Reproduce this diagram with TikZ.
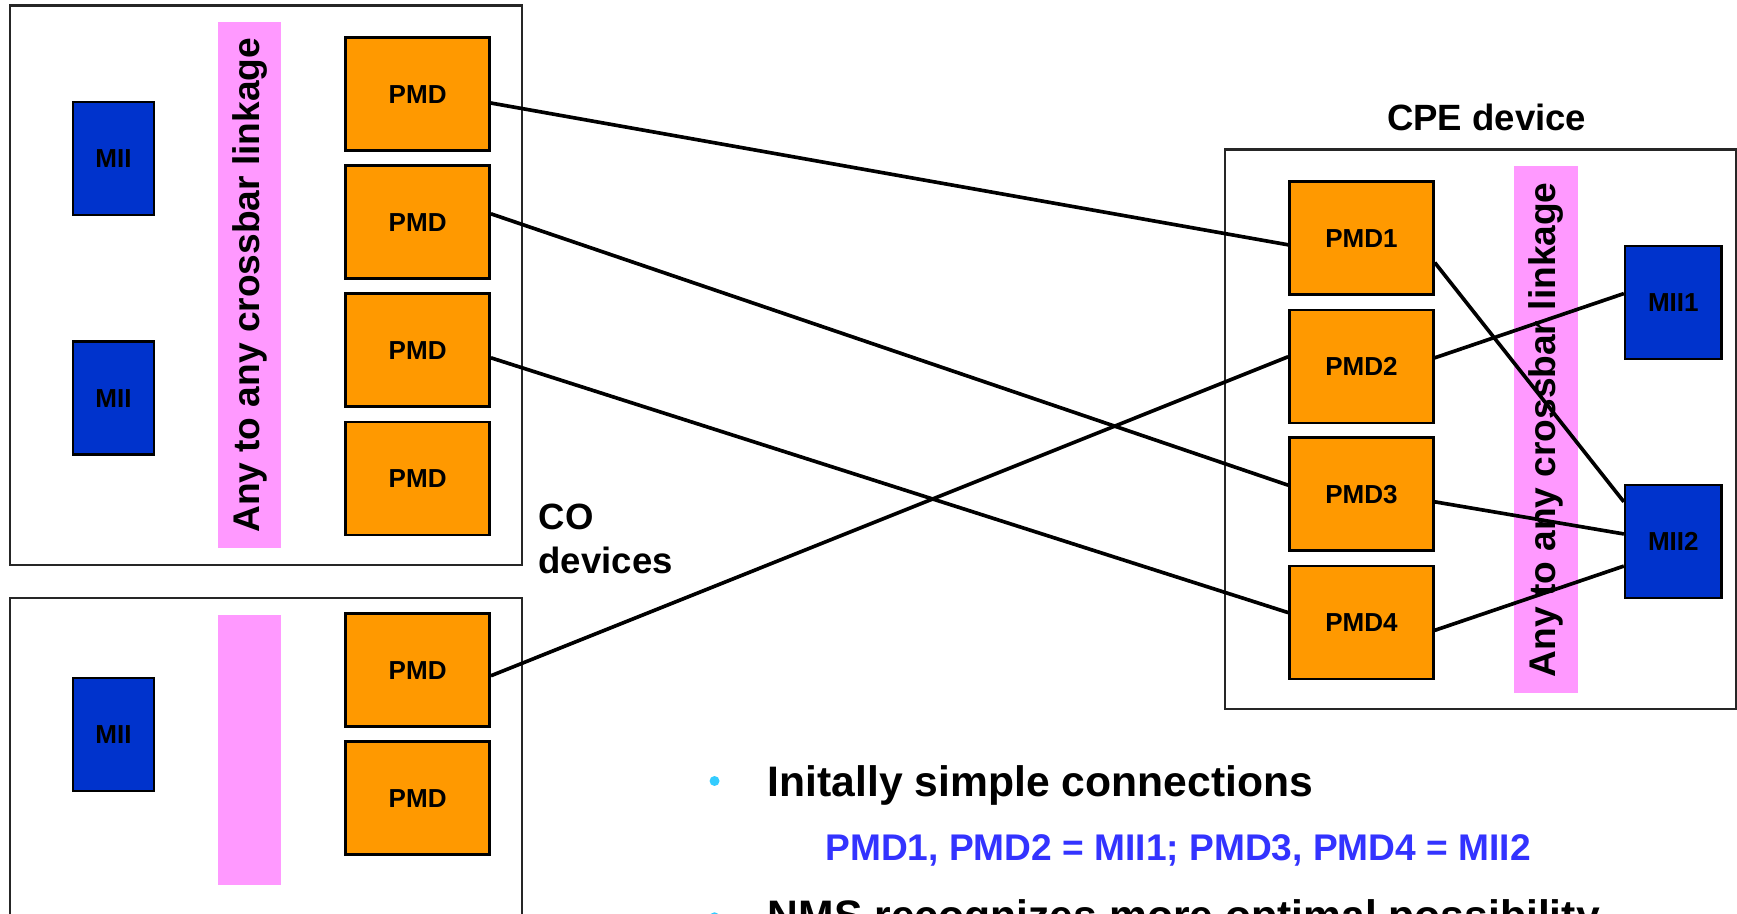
\documentclass[tikz,border=0pt]{standalone}
\usepackage{fontspec}
\setmainfont{Liberation Sans}
\definecolor{pmdorange}{RGB}{255,153,0}
\definecolor{miiblue}{RGB}{0,51,204}
\definecolor{barpink}{RGB}{255,153,255}
\definecolor{textblue}{RGB}{51,51,255}
\definecolor{bulletblue}{RGB}{51,204,255}
\begin{document}
\begin{tikzpicture}[x=1pt,y=-1pt,
  pmd/.style={draw=black, line width=2.3pt, fill=pmdorange, minimum width=130pt,
    minimum height=102pt, inner sep=0pt, font=\fontsize{23.5}{27}\selectfont\bfseries},
  mii/.style={pmd, fill=miiblue, minimum width=73pt},
  miicpe/.style={pmd, fill=miiblue, minimum width=87pt},
  device/.style={draw=black!85, line width=2.1pt},
  bar/.style={fill=barpink},
  bartext/.style={rotate=90, font=\fontsize{33.5}{38}\selectfont\bfseries},
  label/.style={font=\fontsize{33}{40}\selectfont\bfseries, inner sep=0pt},
  link/.style={draw=black, line width=3.3pt},
  bullettext/.style={font=\fontsize{38.5}{44}\selectfont\bfseries, inner sep=0pt, anchor=base west},
  dot/.style={circle, fill=bulletblue, inner sep=0pt, minimum size=9pt}]
\useasboundingbox (0,0) rectangle (1568,825);
\clip (0,0) rectangle (1568,825);

% CO devices, upper card
\draw[device] (9,5) rectangle (471,510);
\fill[bar] (197,20) rectangle (254,495);
\node[bartext] (xbarA) at (225.5,257.5) {Any to any crossbar linkage};
\node[mii] (miiA1) at (102.5,143) {MII};
\node[mii] (miiA2) at (102.5,359.5) {MII};
\node[pmd] (pA1) at (377,85) {PMD};
\node[pmd] (pA2) at (377,200.5) {PMD};
\node[pmd] (pA3) at (377,316) {PMD};
\node[pmd] (pA4) at (377,432) {PMD};

% CO devices, lower card
\draw[device] (9,540) rectangle (471,860);
\fill[bar] (197,555) rectangle (254,799);
\node[mii] (miiB1) at (102.5,663) {MII};
\node[pmd] (pB1) at (377,605) {PMD};
\node[pmd] (pB2) at (377,720.5) {PMD};

\node[label, anchor=base west] (co) at (486,478) {CO};
\node[label, anchor=base west] (codev) at (486,518) {devices};

% CPE device
\node[label, anchor=base] (cpe) at (1342,118) {CPE device};
\draw[device] (1106,135) rectangle (1567,640);
\fill[bar] (1367,150) rectangle (1424,626);
\node[bartext] (xbarC) at (1395.5,388) {Any to any crossbar linkage};
\node[pmd] (c1) at (1229,215) {PMD1};
\node[pmd] (c2) at (1229,331) {PMD2};
\node[pmd] (c3) at (1229,446) {PMD3};
\node[pmd] (c4) at (1229,562) {PMD4};
\node[miicpe] (m1) at (1510.5,273) {MII1};
\node[miicpe] (m2) at (1510.5,489) {MII2};

% line links between the CO and CPE sides
\draw[link] ([yshift=-8pt]pA1.east) -- ([yshift=-6pt]c1.west);
\draw[link] ([yshift=7.5pt]pA2.east) -- ([yshift=8pt]c3.west);
\draw[link] ([yshift=-7pt]pA3.east) -- ([yshift=9pt]c4.west);
\draw[link] ([yshift=-5pt]pB1.east) -- ([yshift=9pt]c2.west);

% links through the CPE crossbar
\draw[link] ([yshift=-22pt]c1.east) -- ([yshift=36pt]m2.west);
\draw[link] ([yshift=8pt]c2.east) -- ([yshift=8pt]m1.west);
\draw[link] ([yshift=-7pt]c3.east) -- ([yshift=7pt]m2.west);
\draw[link] ([yshift=-7pt]c4.east) -- ([yshift=-22pt]m2.west);

% bullet list
\node[dot] (d1) at (645,705) {};
\node[bullettext] (t1) at (693,719) {Initally simple connections};
\node[bullettext, font=\fontsize{33.5}{40}\selectfont\bfseries, text=textblue] (t2) at (745,777)
  {PMD1, PMD2 = MII1; PMD3, PMD4 = MII2};
\node[dot] (d2) at (645,828) {};
\node[bullettext] (t3) at (693,840) {NMS recognizes more optimal possibility};
\end{tikzpicture}
\end{document}
